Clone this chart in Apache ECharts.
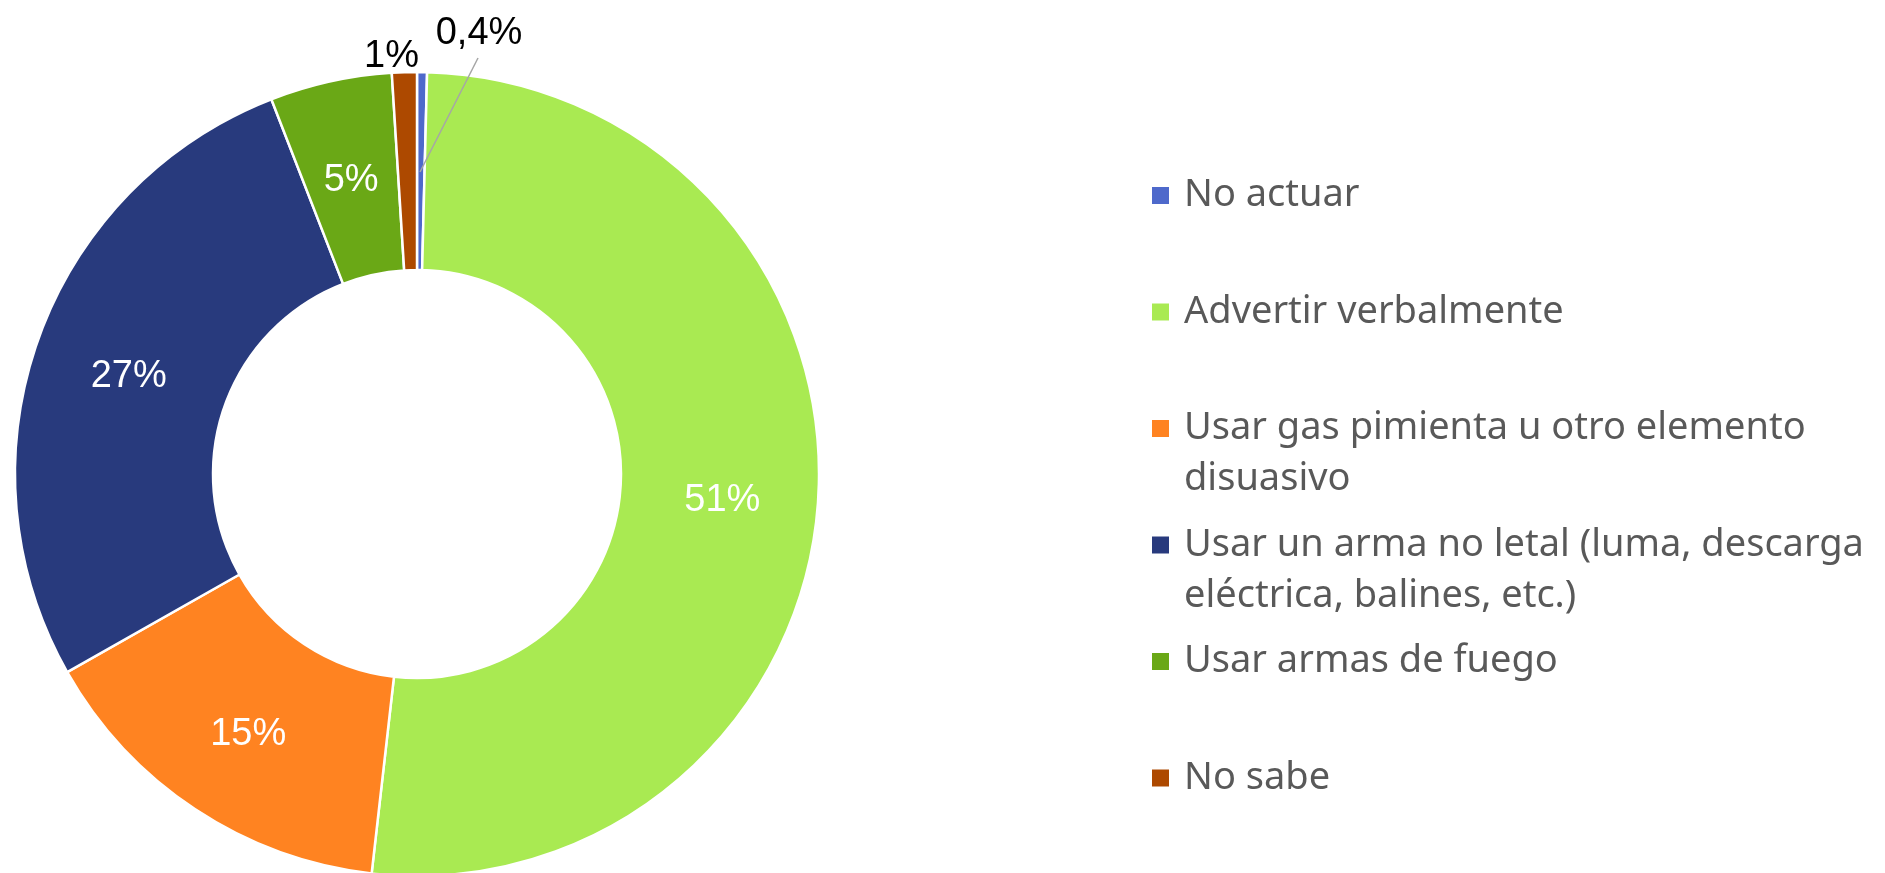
<!DOCTYPE html>
<html>
<head>
<meta charset="utf-8">
<title>Donut</title>
<script src="https://cdn.jsdelivr.net/npm/echarts@6/dist/echarts.min.js"></script>
<style>
  html, body { margin: 0; padding: 0; background: #fff; }
  #chart-donut { width: 1885px; height: 873px; }
</style>
</head>
<body>
<div id="chart-donut"></div>
<script>
// categories in the order they run clockwise from 12 o'clock
let categories = [
  'No actuar',
  'Advertir verbalmente',
  'Usar gas pimienta u otro elemento\ndisuasivo',
  'Usar un arma no letal (luma, descarga\neléctrica, balines, etc.)',
  'Usar armas de fuego',
  'No sabe'
];
let values = [0.4, 51.4, 15.0, 27.3, 4.9, 1.0];
let colors = ['#4E69CB', '#A9EA52', '#FF8321', '#283A7D', '#6AA816', '#AD4900'];

document.addEventListener('DOMContentLoaded', function () {
  let chartDom = document.querySelector('#chart-donut');
  window.donutChart = echarts.init(chartDom);
  window.donutChart.setOption(window.getOptionDonut());
});

window.formatPercent = function (v) {
  if (v < 1) {
    return String(v).replace('.', ',') + '%';
  }
  return Math.round(v) + '%';
};

window.getOptionDonut = function () {
  let last = categories.length - 1;
  let data = [];
  let overlayData = [];
  for (let i = 0; i < categories.length; i++) {
    let item = {
      name: categories[i],
      value: values[i],
      itemStyle: { color: colors[i] }
    };
    if (i === 0) {
      // this label is drawn by the overlay series so its line sits on top
      item.label = { show: false };
    }
    if (i === last) {
      item.label = { position: 'outside', color: '#000' };
    }
    data.push(item);

    overlayData.push({
      name: categories[i],
      value: values[i],
      label: { show: i === 0 },
      labelLine: { show: i === 0 }
    });
  }

  let pieBase = {
    type: 'pie',
    center: [417, 474],
    radius: [204, 402],
    startAngle: 90,
    clockwise: true,
    avoidLabelOverlap: false
  };

  let labelText = {
    color: '#fff',
    fontFamily: 'Liberation Sans',
    fontSize: 38,
    formatter: function (p) {
      return window.formatPercent(p.value);
    }
  };

  return {
    animation: false,
    legend: {
      orient: 'vertical',
      left: 1150,
      top: 119,
      height: 750,
      padding: 0,
      itemGap: -36.5,
      itemWidth: 19,
      itemHeight: 19,
      icon: 'rect',
      selectedMode: false,
      data: categories,
      // blank lines keep the marker level with the first text line
      formatter: function (name) {
        if (name.indexOf('\n') >= 0) {
          return ' \n' + name;
        }
        return ' \n' + name + '\n ';
      },
      textStyle: {
        fontFamily: 'Noto Sans',
        fontSize: 38,
        lineHeight: 51,
        color: '#595959',
        padding: [0, 0, 0, 9]
      }
    },
    series: [
      Object.assign({}, pieBase, {
        data: data,
        itemStyle: {
          borderColor: '#fff',
          borderWidth: 2.5
        },
        label: Object.assign({ show: true, position: 'inside' }, labelText),
        labelLine: { show: false },
        labelLayout: function (p) {
          let r = p.rect;
          if (p.dataIndex === last) {
            return {
              x: r.x + 1,
              y: r.y - 14,
              align: 'center',
              verticalAlign: 'middle'
            };
          }
          return { dy: 5 };
        }
      }),
      Object.assign({}, pieBase, {
        z: 3,
        silent: true,
        data: overlayData,
        itemStyle: { color: 'rgba(0,0,0,0)', borderWidth: 0 },
        label: Object.assign({ position: 'outside' }, labelText, { color: '#000' }),
        labelLine: {
          lineStyle: { color: '#A6A6A6', width: 1.5 }
        },
        labelLayout: function (p) {
          let r = p.rect;
          if (p.dataIndex !== 0) {
            return;
          }
          return {
            x: r.x + 62,
            y: r.y - 38,
            align: 'center',
            verticalAlign: 'middle',
            labelLinePoints: [[r.x + 3, r.y + 100], [r.x + 32, r.y + 43], [r.x + 61, r.y - 14]]
          };
        }
      })
    ]
  };
};
</script>
</body>
</html>
